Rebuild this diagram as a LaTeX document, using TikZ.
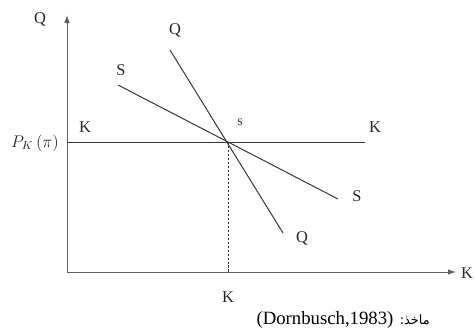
\documentclass[tikz,border=0pt]{standalone}
\usepackage{fontspec}
\setmainfont{Liberation Serif}
\newfontfamily\arabicfont[Script=Arabic]{DejaVu Sans}
\TeXXeTstate=1
\usetikzlibrary{positioning,arrows.meta}
\definecolor{AxisGray}{RGB}{95,95,95}
\definecolor{CurveGray}{RGB}{55,55,55}
\tikzset{
  axis/.style={-{Latex[length=2.4mm,width=1.7mm]},line width=0.85pt,draw=AxisGray},
  curve/.style={line width=0.85pt,draw=CurveGray},
  guide/.style={dash pattern=on 2pt off 1.4pt,line width=0.85pt,draw=CurveGray},
  lbl/.style={font=\fontsize{14}{15}\selectfont,inner sep=1pt,text=black!85},
  small lbl/.style={font=\fontsize{12}{13}\selectfont,inner sep=1pt,text=black!80}
}

\begin{document}
\begin{tikzpicture}[x=0.03cm,y=-0.03cm]
  \useasboundingbox (0,0) rectangle (475,332);
  % axes
  \coordinate (origin) at (67,272);
  \coordinate (qtop) at (67,15);
  \coordinate (kend) at (456,272);
  \draw[axis] (origin) -- (qtop);
  \draw[axis] (origin) -- (kend);
  \node[lbl] (qaxis) at (40,19) {Q};
  \node[lbl] (kaxis) at (467,273) {K};

  % KK line and equilibrium
  \coordinate (kleft) at (67,142);
  \coordinate (kright) at (365,142);
  \coordinate (eq) at (228,142);
  \coordinate (kbase) at (228,272);
  \draw[curve] (kleft) -- (kright);
  \draw[guide] (eq) -- (kbase);
  \node[lbl] (pk) at (35,143) {$P_K\,(\pi)$};
  \node[lbl] (kl) at (85,127) {K};
  \node[lbl] (kr) at (375,127) {K};
  \node[small lbl] (eqlbl) at (240,122) {s};
  \node[lbl] (kb) at (228,297) {K};

  % QQ and SS curves
  \coordinate (q1) at (170,50);
  \coordinate (q2) at (283,233);
  \coordinate (s1) at (118,85);
  \coordinate (s2) at (338,199);
  \draw[curve] (q1) -- (q2);
  \draw[curve] (s1) -- (s2);
  \node[lbl] (qtoplbl) at (175,30) {Q};
  \node[lbl] (qbotlbl) at (302,238) {Q};
  \node[lbl] (stoplbl) at (121,70) {S};
  \node[lbl] (sbotlbl) at (357,196) {S};

  % source
  \node[font=\fontsize{16}{17}\selectfont,inner sep=1pt] (cite) at (325,320) {(Dornbusch,1983)};
  \node[font=\fontsize{11}{12}\selectfont,inner sep=1pt,right=3pt of cite] (src) {\arabicfont\beginR ماخذ:\endR};
\end{tikzpicture}
\end{document}
